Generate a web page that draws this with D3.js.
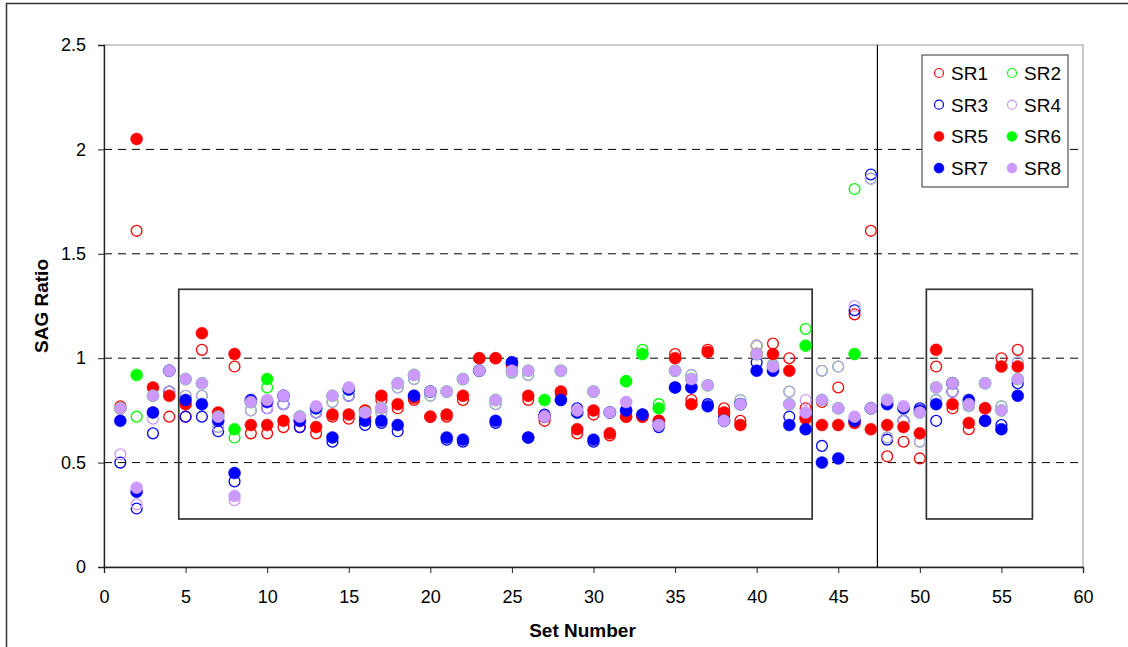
<!DOCTYPE html>
<html>
<head>
<meta charset="utf-8">
<script src="https://cdn.jsdelivr.net/npm/d3@7"></script>
<style>
  body { margin: 0; background: #fff; }
  text { font-family: "Liberation Sans", Arial, sans-serif; }
</style>
</head>
<body>
<div id="vis"></div>
<script>
// set numbers 1..56
var sets = d3.range(1, 57);

var sr1 = [0.77,1.61,0.74,0.72,0.72,1.04,0.73,0.96,0.64,0.64, 0.67,0.67,0.64,0.72,0.71,0.72,0.80,0.76,0.80,0.72,
           0.72,0.80,1.00,1.00,0.97,0.80,0.70,0.83,0.64,0.73, 0.63,0.72,0.72,0.70,1.02,0.80,1.04,0.76,0.70,1.06,
           1.07,1.00,0.76,0.79,0.86,1.21,1.61,0.53,0.60,0.52, 0.96,0.76,0.66,0.76,1.00,1.04];
var sr2 = [0.76,0.72,0.82,0.84,0.82,0.82,0.67,0.62,0.75,0.86, 0.78,0.72,0.74,0.79,0.82,0.74,0.74,0.86,0.90,0.82,
           0.84,0.90,0.94,0.78,0.93,0.92,0.72,0.94,0.74,0.84, 0.74,0.89,1.04,0.78,0.94,0.92,0.87,0.70,0.80,1.06,
           0.97,0.84,1.14,0.94,0.96,1.81,1.86,0.62,0.70,0.60, 0.80,0.84,0.77,0.88,0.77,0.98];
var sr3 = [0.50,0.28,0.64,0.84,0.72,0.72,0.65,0.41,0.79,0.76, 0.78,0.67,0.74,0.60,0.82,0.68,0.69,0.65,0.82,0.84,
           0.61,0.60,0.94,0.69,0.98,0.62,0.73,0.80,0.76,0.60, 0.74,0.75,0.73,0.67,0.86,0.86,0.78,0.72,0.78,0.98,
           0.96,0.72,0.72,0.58,0.76,1.23,1.88,0.61,0.70,0.76, 0.70,0.84,0.79,0.70,0.68,0.88];
var sr4 = [0.54,0.30,0.71,0.84,0.82,0.82,0.67,0.32,0.75,0.76, 0.78,0.72,0.74,0.79,0.82,0.74,0.74,0.86,0.90,0.82,
           0.84,0.90,0.94,0.78,0.93,0.92,0.72,0.94,0.74,0.84, 0.74,0.79,null,0.68,0.94,0.92,0.87,0.70,0.80,1.06,
           0.97,0.84,0.80,0.94,0.96,1.25,1.86,0.62,0.70,0.60, 0.80,0.84,0.77,0.88,0.77,0.98];
var sr5 = [0.76,2.05,0.86,0.82,0.78,1.12,0.74,1.02,0.68,0.68, 0.70,0.70,0.67,0.73,0.73,0.75,0.82,0.78,0.81,0.72,
           0.73,0.82,1.00,1.00,0.97,0.82,0.72,0.84,0.66,0.75, 0.64,0.72,0.72,0.70,1.00,0.78,1.03,0.74,0.68,1.02,
           1.02,0.94,0.71,0.68,0.68,0.69,0.66,0.68,0.67,0.64, 1.04,0.78,0.69,0.76,0.96,0.96];
var sr6 = [0.76,0.92,0.82,0.94,0.90,0.88,0.72,0.66,0.79,0.90, 0.82,0.72,0.76,0.82,0.85,0.74,0.76,0.88,0.92,0.84,
           0.84,0.90,0.94,0.80,0.94,0.94,0.80,0.94,0.74,0.84, 0.74,0.89,1.02,0.76,0.94,0.90,0.87,0.70,0.78,1.02,
           0.96,0.78,1.06,0.80,0.76,1.02,0.76,0.80,0.76,0.74, 0.86,0.88,0.78,0.88,0.75,0.90];
var sr7 = [0.70,0.36,0.74,0.94,0.80,0.78,0.70,0.45,0.80,0.79, 0.82,0.70,0.76,0.62,0.85,0.70,0.70,0.68,0.82,0.84,
           0.62,0.61,0.94,0.70,0.98,0.62,0.72,0.80,0.74,0.61, 0.74,0.75,0.73,0.68,0.86,0.86,0.77,0.70,0.78,0.94,
           0.94,0.68,0.66,0.50,0.52,0.70,0.76,0.78,0.76,0.75, 0.78,0.88,0.80,0.70,0.66,0.82];
var sr8 = [0.76,0.38,0.82,0.94,0.90,0.88,0.72,0.34,0.79,0.80, 0.82,0.72,0.77,0.82,0.86,0.74,0.76,0.88,0.92,0.84,
           0.84,0.90,0.94,0.80,0.94,0.94,0.72,0.94,0.75,0.84, 0.74,0.79,null,0.68,0.94,0.90,0.87,0.70,0.78,1.02,
           0.96,0.78,0.74,0.80,0.76,0.72,0.76,0.80,0.77,0.74, 0.86,0.88,0.78,0.88,0.75,0.90];

var seriesNames = ['SR1', 'SR2', 'SR3', 'SR4', 'SR5', 'SR6', 'SR7', 'SR8'];
var seriesValues = [sr1, sr2, sr3, sr4, sr5, sr6, sr7, sr8];
var seriesColors = ['#ff0000', '#00ff00', '#0000ff', '#cc99ff', '#ff0000', '#00ff00', '#0000ff', '#cc99ff'];
var seriesFilled = [false, false, false, false, true, true, true, true];

var xTicks = [0, 5, 10, 15, 20, 25, 30, 35, 40, 45, 50, 55, 60];
var yTicks = [0, 0.5, 1, 1.5, 2, 2.5];
var gridLines = [0.5, 1, 1.5, 2];

// highlighted regions (in data units)
var boxes = [
  { x0: 4.58, x1: 43.4, y0: 0.23, y1: 1.33 },
  { x0: 50.4, x1: 56.9, y0: 0.23, y1: 1.33 }
];
var splitAt = 47.4;

var width = 1128, height = 647;
var margin = { left: 104, right: 45, top: 45, bottom: 80 };

var x = d3.scaleLinear().domain([0, 60]).range([margin.left, width - margin.right]);
var y = d3.scaleLinear().domain([0, 2.5]).range([height - margin.bottom, margin.top]);

var svg = d3.select('#vis').append('svg')
    .attr('width', width)
    .attr('height', height);

// chart frame
svg.append('rect')
    .attr('x', 6.5).attr('y', 3.5)
    .attr('width', 1140).attr('height', 700)
    .attr('fill', 'none')
    .attr('stroke', '#333')
    .attr('stroke-width', 1.5);

// plot area border (top / right in grey)
svg.append('rect')
    .attr('x', x(0)).attr('y', y(2.5))
    .attr('width', x(60) - x(0)).attr('height', y(0) - y(2.5))
    .attr('fill', 'none')
    .attr('stroke', '#999')
    .attr('stroke-width', 1);

// dashed gridlines
svg.selectAll('.grid')
    .data(gridLines)
    .enter().append('line')
    .attr('class', 'grid')
    .attr('x1', x(0)).attr('x2', x(60))
    .attr('y1', d => y(d)).attr('y2', d => y(d))
    .attr('stroke', '#000')
    .attr('stroke-width', 1)
    .attr('stroke-dasharray', '8,6');

// boxes and split line
svg.selectAll('.box')
    .data(boxes)
    .enter().append('rect')
    .attr('class', 'box')
    .attr('x', d => x(d.x0))
    .attr('y', d => y(d.y1))
    .attr('width', d => x(d.x1) - x(d.x0))
    .attr('height', d => y(d.y0) - y(d.y1))
    .attr('fill', 'none')
    .attr('stroke', '#333')
    .attr('stroke-width', 1.7);

svg.append('line')
    .attr('x1', x(splitAt)).attr('x2', x(splitAt))
    .attr('y1', y(2.5)).attr('y2', y(0))
    .attr('stroke', '#000')
    .attr('stroke-width', 1.2);

// axes
var xAxis = svg.append('g')
    .attr('transform', 'translate(0,' + y(0) + ')')
    .call(d3.axisBottom(x).tickValues(xTicks).tickSize(6).tickPadding(17));
var yAxis = svg.append('g')
    .attr('transform', 'translate(' + x(0) + ',0)')
    .call(d3.axisLeft(y).tickValues(yTicks).tickSize(6).tickPadding(12).tickFormat(d3.format('')));

[xAxis, yAxis].forEach(function (g) {
  g.select('.domain').attr('stroke', '#222').attr('stroke-width', 1.3);
  g.selectAll('.tick line').attr('stroke', '#222');
  g.selectAll('.tick text')
    .attr('fill', '#000')
    .style('font-size', '18px')
    .style('font-family', '"Liberation Sans", Arial, sans-serif');
});

// points, series drawn in order so SR8 ends up on top
seriesValues.forEach(function (vals, i) {
  var pts = sets.map(function (s, j) { return { set: s, v: vals[j] }; })
    .filter(function (d) { return d.v != null; });
  svg.append('g')
    .selectAll('circle')
    .data(pts)
    .enter().append('circle')
    .attr('cx', d => x(d.set))
    .attr('cy', d => y(d.v))
    .attr('r', seriesFilled[i] ? 6 : 5.4)
    .attr('fill', seriesFilled[i] ? seriesColors[i] : 'none')
    .attr('stroke', seriesColors[i])
    .attr('stroke-width', seriesFilled[i] ? 0.5 : 1.3);
});

// axis titles
svg.append('text')
    .attr('x', x(30) - 11)
    .attr('y', 637)
    .attr('text-anchor', 'middle')
    .style('font-size', '19px')
    .style('font-weight', 'bold')
    .text('Set Number');

svg.append('text')
    .attr('transform', 'translate(48,' + y(1.25) + ') rotate(-90)')
    .attr('text-anchor', 'middle')
    .style('font-size', '19px')
    .style('font-weight', 'bold')
    .text('SAG Ratio');

// legend
var legend = svg.append('g').attr('transform', 'translate(922,55)');
legend.append('rect')
    .attr('width', 146).attr('height', 132)
    .attr('fill', '#fff')
    .attr('stroke', '#333')
    .attr('stroke-width', 1);

var legendItems = legend.selectAll('.item')
    .data(seriesNames)
    .enter().append('g')
    .attr('class', 'item')
    .attr('transform', function (d, i) {
      return 'translate(' + (i % 2 === 0 ? 17 : 90) + ',' + (18 + Math.floor(i / 2) * 31.7) + ')';
    });

legendItems.append('circle')
    .attr('r', function (d, i) { return seriesFilled[i] ? 5 : 4.5; })
    .attr('fill', function (d, i) { return seriesFilled[i] ? seriesColors[i] : 'none'; })
    .attr('stroke', function (d, i) { return seriesColors[i]; })
    .attr('stroke-width', function (d, i) { return seriesFilled[i] ? 0.5 : 1.2; });

legendItems.append('text')
    .attr('x', 12)
    .attr('dy', '0.36em')
    .style('font-size', '19px')
    .text(d => d);
</script>
</body>
</html>
